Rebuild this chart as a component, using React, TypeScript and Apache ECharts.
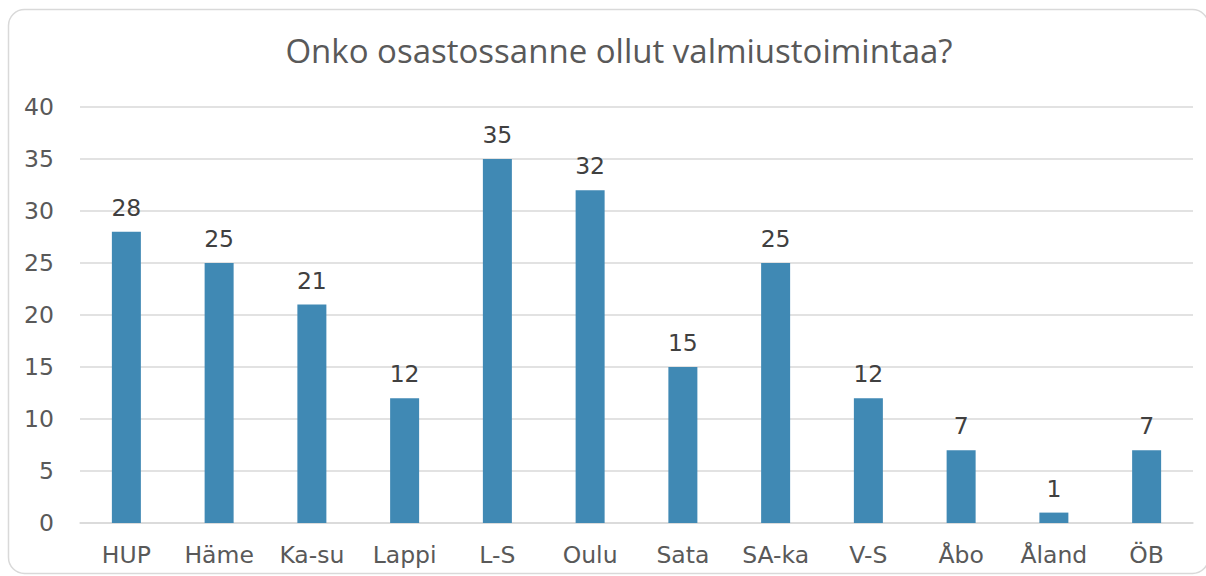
import React, { useEffect, useRef } from "react";
import * as echarts from "echarts";

const categories = ["HUP", "Häme", "Ka-su", "Lappi", "L-S", "Oulu", "Sata", "SA-ka", "V-S", "Åbo", "Åland", "ÖB"];
const values = [28, 25, 21, 12, 35, 32, 15, 25, 12, 7, 1, 7];
const titleText = "Onko osastossanne ollut valmiustoimintaa?";

export default function App() {
  const ref = useRef<HTMLDivElement>(null);
  useEffect(() => {
    if (!ref.current) return;
    const chart = echarts.init(ref.current, undefined, { renderer: "svg" });
    chart.setOption({
      animation: false,
      backgroundColor: "#ffffff",
      title: {
        text: titleText,
        left: 614,
        top: 29,
        textAlign: "center",
        textStyle: { fontFamily: "Open Sans", fontSize: 33, fontWeight: "normal", color: "#595959" },
      },
      graphic: [
        {
          type: "rect",
          shape: { x: 8.5, y: 9.5, width: 1200, height: 564, r: 16 },
          style: { fill: "none", stroke: "#d9d9d9", lineWidth: 1.5 },
          silent: true,
        },
      ],
      grid: { left: 80, right: 13, top: 107, bottom: 53 },
      xAxis: {
        type: "category",
        data: categories,
        axisLine: { show: true, lineStyle: { color: "#d9d9d9", width: 1.5 } },
        axisTick: { show: false },
        axisLabel: { color: "#595959", fontFamily: "DejaVu Sans", fontSize: 23.5, margin: 20 },
      },
      yAxis: {
        type: "value",
        min: 0,
        max: 40,
        interval: 5,
        axisLine: { show: false },
        axisTick: { show: false },
        splitLine: { lineStyle: { color: "#d9d9d9", width: 1.5 } },
        axisLabel: { color: "#595959", fontFamily: "DejaVu Sans", fontSize: 23.5, margin: 26 },
      },
      series: [
        {
          type: "bar",
          data: values,
          barWidth: 29,
          itemStyle: { color: "#4089b4" },
          label: {
            show: true,
            position: "top",
            distance: 12,
            color: "#404040",
            fontFamily: "DejaVu Sans",
            fontSize: 23.5,
          },
        },
      ],
    });
    return () => chart.dispose();
  }, []);
  return (
    <div
      ref={ref}
      style={{ position: "absolute", left: 0, top: 0, width: 1206, height: 576 }}
    />
  );
}
